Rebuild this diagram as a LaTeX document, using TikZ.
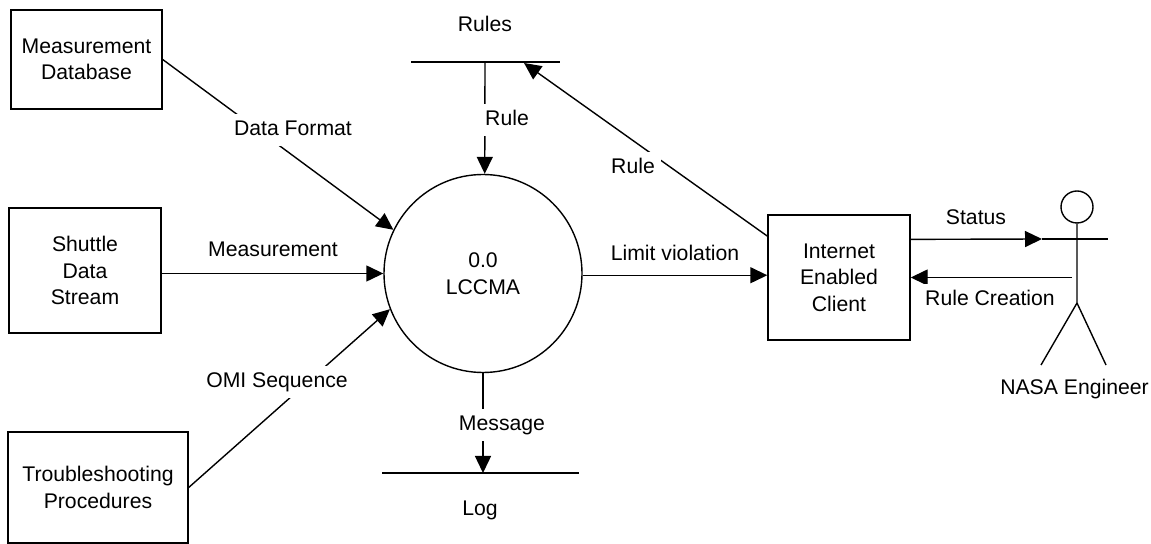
\documentclass[tikz,border=0pt]{standalone}
\usepackage{fontspec}
\setmainfont{Liberation Sans}
\usetikzlibrary{arrows.meta}
\tikzset{
	tip/.style={-{Triangle[length=8.5pt,width=8pt]}},
	box/.style={draw,align=center,inner sep=0pt,line width=0.7pt},
	lbl/.style={fill=white,inner sep=3pt,text height=7.6pt,text depth=2.2pt,yshift=-1pt}
}
\begin{document}
\begin{tikzpicture}[x=0.5pt,y=-0.5pt,line width=0.7pt,font=\fontsize{10.6}{13.25}\selectfont]
			\useasboundingbox (0,0) rectangle (1151,544);
			\node[box,minimum width=75.5pt,minimum height=49.5pt] (database) at (86.5,59.5) {Measurement\\Database};
			\node[box,minimum width=76pt,minimum height=62.5pt] (stream) at (85,270.5) {Shuttle\\Data\\Stream};
			\node[box,minimum width=90pt,minimum height=55.5pt] (procedures) at (98,487.5) {Troubleshooting\\Procedures};
			\node[box,circle,minimum size=99pt] (lccma) at (483,273.5) {0.0\\LCCMA};
			\node[box,minimum width=71pt,minimum height=62.5pt] (client) at (839,277.5) {Internet\\Enabled\\Client};
			\node[box,circle,minimum size=16pt] (head) at (1077,207) {};
			\coordinate (rulesL) at (411,62);
			\coordinate (rulesR) at (560,62);
			\coordinate (rulesM) at (485,62);
			\coordinate (rulesT) at (524,63);
			\coordinate (logL) at (382,473);
			\coordinate (logR) at (579,473);
			\coordinate (logM) at (483,473);
			\coordinate (armL) at (1042,239);
			\coordinate (armR) at (1108,239);
			\coordinate (hip) at (1077,303);
			\coordinate (footL) at (1041,365);
			\coordinate (footR) at (1106,365);
			\coordinate (hand) at (1072,277.5);
			\draw (rulesL) -- (rulesR);
			\draw (logL) -- (logR);
			\draw (armL) -- (armR);
			\draw (head.south) -- (hip) -- (footL);
			\draw (hip) -- (footR);
			\path[tip]
			(database.east) edge (lccma.154)
			(stream.east |- lccma.west) edge (lccma.west)
			(procedures.east) edge (lccma.201)
			(rulesM) edge (lccma.89)
			(lccma.south) edge (logM)
			(lccma.-1) edge (client.west |- lccma.-1)
			(client.150) edge (rulesT)
			(client.28) edge (armL)
			(hand) edge (client.east);
			\node[lbl] (dataformat) at (293,128) {Data Format};
			\node[lbl] (measurement) at (273,249) {Measurement};
			\node[lbl] (omi) at (277,380) {OMI Sequence};
			\node[lbl] (ruledown) at (507,118) {Rule};
			\node[lbl] (message) at (502,423) {Message};
			\node[lbl] (ruleup) at (633,166) {Rule};
			\node[lbl] (violation) at (675,253) {Limit violation};
			\node[lbl] (status) at (976,217) {Status};
			\node[lbl] (creation) at (990,298) {Rule Creation};
			\node (rules) at (485,24) {Rules};
			\node (log) at (480,510) {Log};
			\node (engineer) at (1074.5,389) {NASA Engineer};
		\end{tikzpicture}
\end{document}
